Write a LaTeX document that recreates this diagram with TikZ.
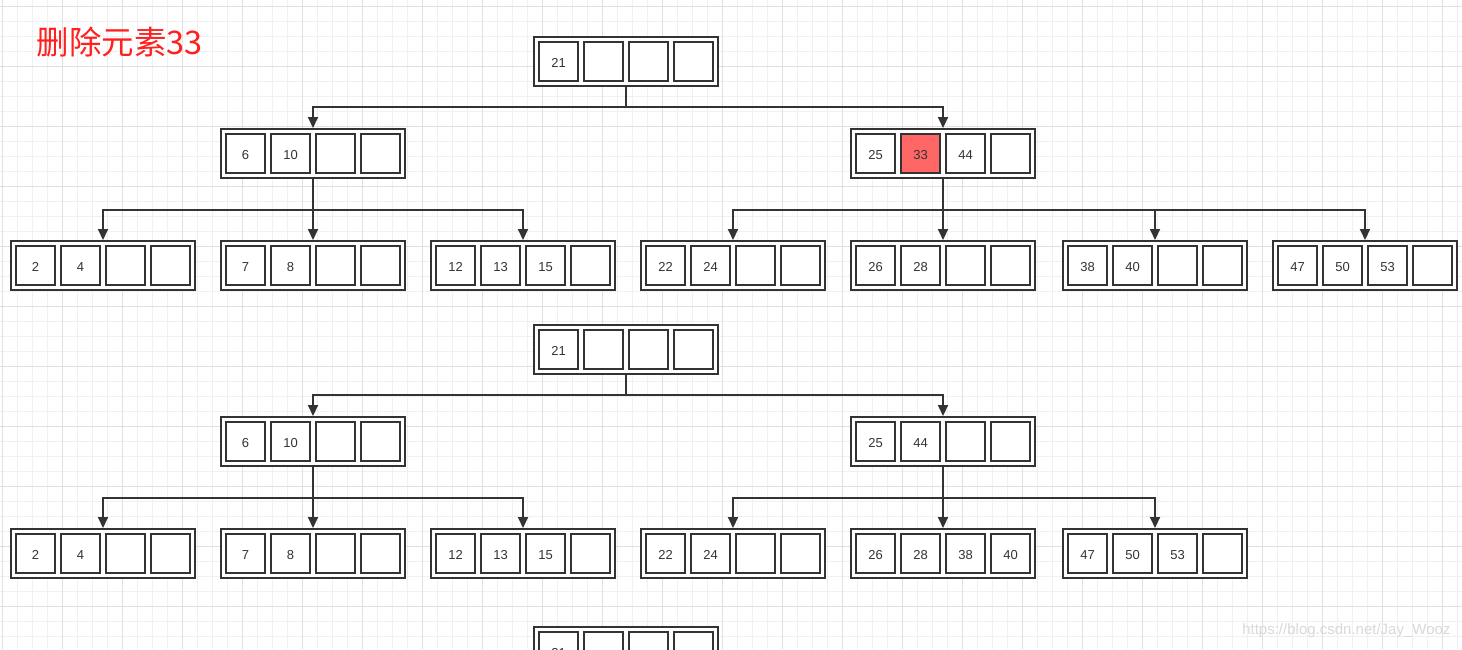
\documentclass[tikz,border=0pt]{standalone}
\usepackage{fontspec}
\setmainfont{Liberation Sans}
\newfontfamily\cjk{Noto Sans CJK SC}
\usetikzlibrary{arrows.meta}
\definecolor{ink}{HTML}{333333}
\definecolor{delred}{HTML}{FF6666}
\definecolor{titlered}{HTML}{FF2020}
\definecolor{gridminor}{HTML}{F0F0F0}
\definecolor{gridmajor}{HTML}{E0E0E0}

% one B-tree page: name, x, y, four keys
\newcommand\bnode[7]{%
  \node[outer] (#1) at (#2,#3) {};
  \node[cell] (#1-1) at ([xshift=-67.5pt]#1.center) {#4};
  \node[cell] (#1-2) at ([xshift=-22.5pt]#1.center) {#5};
  \node[cell] (#1-3) at ([xshift=22.5pt]#1.center) {#6};
  \node[cell] (#1-4) at ([xshift=67.5pt]#1.center) {#7};
}

\begin{document}
\begin{tikzpicture}[x=1pt, y=-1pt, font=\fontsize{13}{15}\selectfont]
\tikzstyle{outer}=[draw=ink, fill=white, line width=2pt, minimum width=184pt, minimum height=49pt, inner sep=0pt]
\tikzstyle{cell}=[draw=ink, fill=white, line width=2pt, minimum size=39pt, inner sep=0pt, text=ink, text height=11pt, text depth=0pt]
\tikzstyle{link}=[draw=ink, line width=2pt, -{Triangle[length=11pt, width=10pt]}]
\useasboundingbox (0,0) rectangle (1462,649);
\clip (0,0) rectangle (1462,649);
\fill[white] (0,0) rectangle (1462,649);
% background grid
\foreach \i in {0,...,97} \draw[gridminor, line width=1pt] (2.7+15*\i,0) -- (2.7+15*\i,649);
\foreach \i in {0,...,43} \draw[gridminor, line width=1pt] (0,6+15*\i) -- (1462,6+15*\i);
\foreach \i in {0,...,24} \draw[gridmajor, line width=1pt] (2.7+60*\i,0) -- (2.7+60*\i,649);
\foreach \i in {0,...,10} \draw[gridmajor, line width=1pt] (0,6+60*\i) -- (1462,6+60*\i);

\node[text=titlered, anchor=west, font=\cjk\fontsize{32.5}{36}\selectfont] (title) at (33,42) {删除元素33};

% before
\bnode{t1root}{626}{61.5}{21}{}{}{}
\bnode{t1l}{313}{153.5}{6}{10}{}{}
\bnode{t1r}{943}{153.5}{25}{33}{44}{}
\node[cell, fill=delred] (del) at (t1r-2) {33};
\bnode{t1a}{103}{265.5}{2}{4}{}{}
\bnode{t1b}{313}{265.5}{7}{8}{}{}
\bnode{t1c}{523}{265.5}{12}{13}{15}{}
\bnode{t1d}{733}{265.5}{22}{24}{}{}
\bnode{t1e}{943}{265.5}{26}{28}{}{}
\bnode{t1f}{1155}{265.5}{38}{40}{}{}
\bnode{t1g}{1365}{265.5}{47}{50}{53}{}
\foreach \c in {t1l,t1r} \draw[link] (t1root.south) -- ++(0,20) -| (\c.north);
\foreach \c in {t1a,t1b,t1c} \draw[link] (t1l.south) -- ++(0,31) -| (\c.north);
\foreach \c in {t1d,t1e,t1f,t1g} \draw[link] (t1r.south) -- ++(0,31) -| (\c.north);

% after
\bnode{t2root}{626}{349.5}{21}{}{}{}
\bnode{t2l}{313}{441.5}{6}{10}{}{}
\bnode{t2r}{943}{441.5}{25}{44}{}{}
\bnode{t2a}{103}{553.5}{2}{4}{}{}
\bnode{t2b}{313}{553.5}{7}{8}{}{}
\bnode{t2c}{523}{553.5}{12}{13}{15}{}
\bnode{t2d}{733}{553.5}{22}{24}{}{}
\bnode{t2e}{943}{553.5}{26}{28}{38}{40}
\bnode{t2f}{1155}{553.5}{47}{50}{53}{}
\foreach \c in {t2l,t2r} \draw[link] (t2root.south) -- ++(0,20) -| (\c.north);
\foreach \c in {t2a,t2b,t2c} \draw[link] (t2l.south) -- ++(0,31) -| (\c.north);
\foreach \c in {t2d,t2e,t2f} \draw[link] (t2r.south) -- ++(0,31) -| (\c.north);

\bnode{t3root}{626}{651.5}{21}{}{}{}

\node[text=gray!30, anchor=east, font=\fontsize{15}{17}\selectfont] (wm) at (1454,631) {https://blog.csdn.net/Jay\_Wooz};
\end{tikzpicture}
\end{document}
